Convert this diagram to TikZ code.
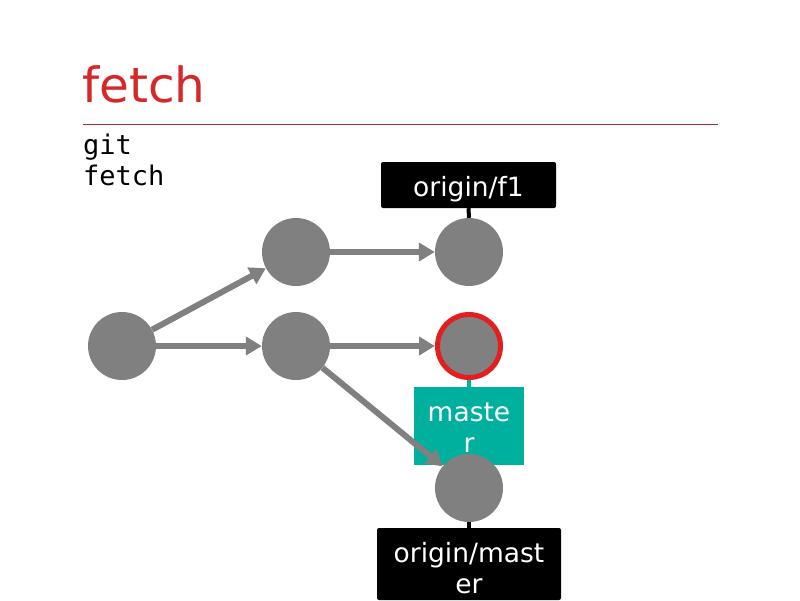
\documentclass[tikz,border=0pt]{standalone}
\usepackage{fontspec}
\setmainfont{DejaVu Sans}
\setmonofont{DejaVu Sans Mono}
\usetikzlibrary{arrows.meta}
\definecolor{commitgray}{RGB}{128,128,128}
\definecolor{titlered}{RGB}{214,40,40}
\definecolor{headred}{RGB}{226,30,30}
\definecolor{tealbox}{RGB}{0,176,158}
\definecolor{rulered}{RGB}{170,50,50}
\pgfdeclarelayer{front}
\pgfsetlayers{main,front}
\tikzset{
  commit/.style={circle, fill=commitgray, minimum size=68pt, inner sep=0pt},
  headcommit/.style={commit, draw=headred, line width=5pt, minimum size=63pt},
  refbox/.style={fill=black, rounded corners=2pt, inner sep=0pt},
  branchbox/.style={fill=tealbox, inner sep=0pt},
  boxtext/.style={text=white, inner sep=0pt, align=center, font=\fontsize{26.5}{31}\selectfont},
  edge/.style={draw=commitgray, line width=6pt, -{Triangle[length=16pt,width=18pt]}},
  tie/.style={line width=4pt}
}
\begin{document}
\begin{tikzpicture}[x=1pt,y=-1pt]
\useasboundingbox (0,0) rectangle (800,600);
% title
\node[anchor=base west, inner sep=0pt, text=titlered, font=\fontsize{48.5}{56}\selectfont] (title) at (82,102) {fetch};
\draw[rulered, line width=0.8pt] (83,124) -- (718,124);
\node[anchor=base west, inner sep=0pt, align=left, font=\ttfamily\fontsize{27}{31}\selectfont] (cmd) at (83,185) {git\\fetch};
% boxes
\node[refbox, minimum width=175pt, minimum height=46pt] (of1) at (468.5,185) {};
\node[boxtext] (of1t) at ([yshift=-4pt]of1.center) {origin/f1};
\node[branchbox, minimum width=110pt, minimum height=78pt] (master) at (469,426) {};
\node[boxtext] (mastert) at ([yshift=-1.5pt]master.center) {maste\\r};
\node[refbox, minimum width=184pt, minimum height=72pt] (om) at (469,564) {};
\node[boxtext] (omt) at ([yshift=-4pt]om.center) {origin/mast\\er};
% commits
\node[commit] (c1) at (122,346) {};
\node[commit] (c2a) at (296,252) {};
\node[commit] (c2b) at (296,346) {};
\node[commit] (c3a) at (469,252) {};
\node[headcommit] (c3b) at (469,346) {};
\begin{pgfonlayer}{front}
\node[commit] (c3c) at (469,488) {};
\end{pgfonlayer}
% ties
\draw[tie, black] (of1.south) -- (c3a.north);
\draw[tie, tealbox] (c3b.south) -- (master.north);
\draw[tie, black] (c3c.south) -- (om.north);
% edges
\path[edge] (c1) -- (c2a);
\path[edge] (c1) -- (c2b);
\path[edge] (c2a) -- (c3a);
\path[edge] (c2b) -- (c3b);
\path[edge] (c2b) -- (c3c);
\end{tikzpicture}
\end{document}
